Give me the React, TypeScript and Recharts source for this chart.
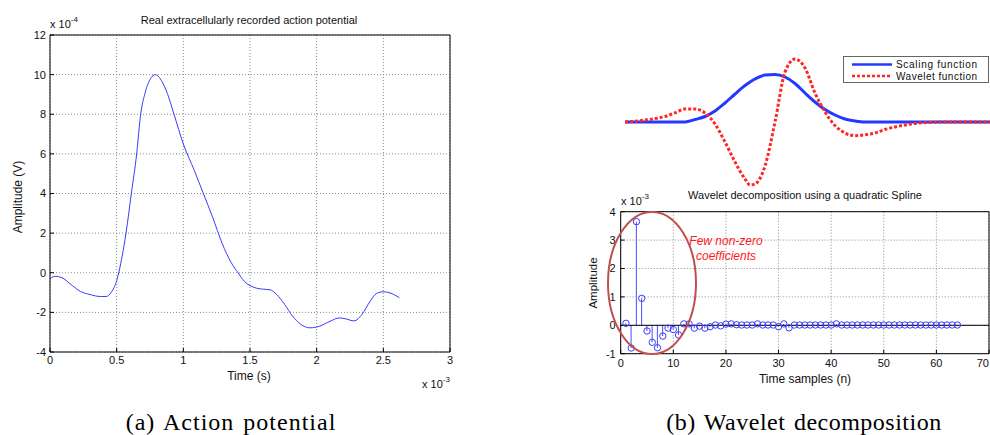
import React from 'react';
import {
  LineChart, Line, XAxis, YAxis, CartesianGrid, ComposedChart, Bar, Scatter, ReferenceLine,
} from 'recharts';

// ---- (a) Action potential: time (x 1e-3 s), amplitude (x 1e-4 V)
const apTime = [0, 0.04, 0.09, 0.15, 0.23, 0.3, 0.38, 0.42, 0.46, 0.5, 0.54, 0.57, 0.61, 0.65, 0.68, 0.71, 0.75, 0.79, 0.84, 0.88, 0.93, 1.0, 1.08, 1.15, 1.22, 1.29, 1.36, 1.41, 1.46, 1.5, 1.55, 1.6, 1.65, 1.7, 1.76, 1.82, 1.88, 1.95, 2.02, 2.1, 2.17, 2.22, 2.28, 2.34, 2.4, 2.45, 2.5, 2.55, 2.62];
const apAmp = [-0.29, -0.18, -0.25, -0.55, -0.95, -1.1, -1.2, -1.2, -0.98, -0.4, 0.8, 2.0, 4.0, 6.0, 8.0, 9.0, 9.75, 10.0, 9.65, 9.05, 8.0, 6.5, 5.2, 4.0, 2.8, 1.5, 0.5, 0.0, -0.45, -0.65, -0.78, -0.83, -0.86, -1.1, -1.6, -2.2, -2.6, -2.78, -2.7, -2.45, -2.28, -2.33, -2.43, -2.1, -1.45, -1.04, -0.96, -1.02, -1.26];
const apXTicks = [0, 0.5, 1, 1.5, 2, 2.5, 3];
const apYTicks = [-4, -2, 0, 2, 4, 6, 8, 10, 12];

// ---- (b) top: scaling & wavelet functions (arbitrary units)
const basisX = [0, 2, 4, 6, 8, 10, 12, 14, 16, 18, 20, 22, 24, 25, 26, 28, 30, 32, 34, 36, 38, 40, 42, 44, 46, 48, 50, 52, 54, 56, 58, 60, 62, 64, 66, 68, 70, 72, 73];
const scalingFn = [0, 0, 0, 0, 0, 0, 0, 2.5, 5.5, 11, 19, 28, 36.5, 40, 43, 47, 47.5, 45, 38.5, 29, 20, 12.5, 7, 3, 1, 0, 0, 0, 0, 0, 0, 0, 0, 0, 0, 0, 0, 0, 0];
const waveletFn = [0, 0.8, 2, 3.4, 5.5, 9.2, 13, 13, 9, -2, -20, -40, -57, -63, -62, -44, 0, 50, 63, 54, 29, 10, -3.5, -11, -13.7, -12.8, -11, -7.5, -5, -3, -1.5, -0.6, -0.2, 0, 0, 0, 0, 0, 0];

// ---- (b) bottom: wavelet coefficients (x 1e-3)
const coefN = [1, 2, 3, 4, 5, 6, 7, 8, 9, 10, 11, 12, 13, 14, 15, 16, 17, 18, 19, 20, 21, 22, 23, 24, 25, 26, 27, 28, 29, 30, 31, 32, 33, 34, 35, 36, 37, 38, 39, 40, 41, 42, 43, 44, 45, 46, 47, 48, 49, 50, 51, 52, 53, 54, 55, 56, 57, 58, 59, 60, 61, 62, 63, 64];
const coefVal = [0.07, -0.8, 3.65, 0.95, -0.2, -0.6, -0.79, -0.38, -0.1, -0.15, -0.34, 0.05, 0.05, -0.1, -0.03, -0.1, -0.05, 0.01, -0.02, 0.04, 0.05, 0.02, 0.01, 0.01, 0.01, 0.05, 0.01, 0.01, 0.01, -0.05, 0.05, -0.09, 0.01, 0.01, 0.01, 0.01, 0.01, 0.01, 0.01, 0.01, 0.05, 0.01, 0.01, 0.01, 0.01, 0.01, 0.01, 0.01, 0.01, 0.01, 0.01, 0.01, 0.01, 0.01, 0.01, 0.01, 0.01, 0.01, 0.01, 0.01, 0.01, 0.01, 0.01, 0.01];
const coefXTicks = [0, 10, 20, 30, 40, 50, 60, 70];
const coefYTicks = [-1, 0, 1, 2, 3, 4];

const apData = apTime.map((t, i) => ({ t, v: apAmp[i] }));
const basisData = basisX.map((x, i) => ({ x, s: scalingFn[i], w: waveletFn[i] }));
const coefData = coefN.map((n, i) => ({ n, v: coefVal[i] }));

const SANS = "'Liberation Sans', Arial, Helvetica, sans-serif";
const SERIF = "'Liberation Serif', 'Times New Roman', serif";
const tickStyle = { fill: '#111', fontSize: 11, fontFamily: SANS };
const gridStroke = '#8a8a8a';
const tl = { stroke: '#000' };

type TxtProps = { x: number; y: number; children: React.ReactNode; size?: number; anchor?: 'start' | 'middle' | 'end'; rotate?: number; style?: React.CSSProperties };
const Txt = ({ x, y, children, size = 11, anchor = 'middle', rotate = 0, style }: TxtProps) => {
  const tx = anchor === 'middle' ? -50 : anchor === 'end' ? -100 : 0;
  return (
    <div style={{
      position: 'absolute', left: x, top: y, transform: `translate(${tx}%, -50%) rotate(${rotate}deg)`,
      whiteSpace: 'nowrap', fontSize: size, fontFamily: SANS, lineHeight: 1, color: '#111', ...style,
    }}>{children}</div>
  );
};

const Sup = ({ children }: { children: React.ReactNode }) => (
  <span style={{ fontSize: 8, position: 'relative', top: -6 }}>{children}</span>
);

const StemCircle = (p: any) => (
  <circle cx={p.cx} cy={p.cy} r={3.2} fill="none" stroke="#3c3cff" strokeWidth={1} />
);

const StemXTick = (p: any) => (
  <text x={p.x} y={p.y} dy="0.71em" textAnchor={p.payload.value === 70 ? 'end' : 'middle'}
    fontSize={11} fill="#111" fontFamily={SANS}>{p.payload.value}</text>
);

export default function App() {
  return (
    <div style={{ position: 'absolute', left: 0, top: 0, width: 990, height: 435, background: '#fff', overflow: 'hidden' }}>
      {/* ---------- (a) ---------- */}
      <div style={{ position: 'absolute', left: 0, top: 0 }}>
        <LineChart width={470} height={400} data={apData} margin={{ top: 34, right: 19, bottom: 28, left: 10 }}>
          <CartesianGrid stroke={gridStroke} strokeDasharray="1 2" />
          <XAxis dataKey="t" type="number" domain={[0, 3]} ticks={apXTicks} interval={0} height={20}
            tickSize={-4} tickLine={tl} tickMargin={8} tick={tickStyle} axisLine={{ stroke: '#000' }} />
          <XAxis xAxisId="top" orientation="top" type="number" domain={[0, 3]} ticks={apXTicks} interval={0} height={1}
            tick={false} tickSize={-4} tickLine={tl} axisLine={{ stroke: '#000' }} />
          <YAxis type="number" domain={[-4, 12]} ticks={apYTicks} interval={0} width={40}
            tickSize={-4} tickLine={tl} tickMargin={8} tick={tickStyle} axisLine={{ stroke: '#000' }} />
          <YAxis yAxisId="right" orientation="right" type="number" domain={[-4, 12]} ticks={apYTicks} interval={0} width={1}
            tick={false} tickSize={-4} tickLine={tl} axisLine={{ stroke: '#000' }} />
          <Line dataKey="v" type="monotone" stroke="#3a3aff" strokeWidth={1} dot={false} isAnimationActive={false} />
        </LineChart>
      </div>
      <Txt x={249} y={20} size={11}>Real extracellularly recorded action potential</Txt>
      <Txt x={50} y={24} anchor="start" size={11}>x 10<Sup>-4</Sup></Txt>
      <Txt x={18} y={197} size={12} rotate={-90}>Amplitude (V)</Txt>
      <Txt x={249} y={376} size={12}>Time (s)</Txt>
      <Txt x={422} y={384} anchor="start" size={11}>x 10<Sup>-3</Sup></Txt>

      {/* ---------- (b) top ---------- */}
      <div style={{ position: 'absolute', left: 625, top: 52 }}>
        <LineChart width={365} height={140} data={basisData} margin={{ top: 0, right: 0, bottom: 0, left: 0 }}>
          <XAxis dataKey="x" type="number" domain={[0, 73]} hide />
          <YAxis type="number" domain={[-70, 70]} hide />
          <Line dataKey="s" type="monotone" stroke="#2438ff" strokeWidth={3} dot={false} isAnimationActive={false} />
          <Line dataKey="w" type="monotone" stroke="#ff2626" strokeWidth={3} strokeDasharray="3 2" dot={false} isAnimationActive={false} />
        </LineChart>
      </div>
      <div style={{ position: 'absolute', left: 843, top: 56, width: 146, height: 27, border: '1px solid #666', background: '#fff', boxSizing: 'border-box' }}>
        <svg width={146} height={27} style={{ position: 'absolute', left: 0, top: 0 }}>
          <line x1={8} x2={48} y1={7.5} y2={7.5} stroke="#2438ff" strokeWidth={2.5} />
          <line x1={8} x2={48} y1={19} y2={19} stroke="#ff2626" strokeWidth={2.5} strokeDasharray="3 2" />
        </svg>
        <Txt x={52} y={8} anchor="start" size={10} style={{ letterSpacing: 0.7 }}>Scaling function</Txt>
        <Txt x={52} y={19.5} anchor="start" size={10} style={{ letterSpacing: 0.5 }}>Wavelet function</Txt>
      </div>

      {/* ---------- (b) bottom ---------- */}
      <div style={{ position: 'absolute', left: 590, top: 180 }}>
        <ComposedChart width={400} height={200} data={coefData} margin={{ top: 30.7, right: 0, bottom: 6.3, left: 0.7 }}>
          <CartesianGrid stroke={gridStroke} strokeDasharray="1 2" />
          <XAxis dataKey="n" type="number" domain={[0, 70]} ticks={coefXTicks} interval={0} height={20}
            tickSize={-4} tickLine={tl} tickMargin={9} tick={StemXTick} axisLine={{ stroke: '#000' }} />
          <XAxis xAxisId="top" orientation="top" type="number" domain={[0, 70]} ticks={coefXTicks} interval={0} height={1}
            tick={false} tickSize={-4} tickLine={tl} axisLine={{ stroke: '#000' }} />
          <YAxis type="number" domain={[-1, 4]} ticks={coefYTicks} interval={0} width={30}
            tickSize={-4} tickLine={tl} tickMargin={9} tick={tickStyle} axisLine={{ stroke: '#000' }} />
          <YAxis yAxisId="right" orientation="right" type="number" domain={[-1, 4]} ticks={coefYTicks} interval={0} width={1}
            tick={false} tickSize={-4} tickLine={tl} axisLine={{ stroke: '#000' }} />
          <Bar dataKey="v" barSize={1} fill="#4a4aff" isAnimationActive={false} />
          <ReferenceLine y={0} stroke="#000" strokeWidth={1} />
          <Scatter dataKey="v" shape={StemCircle} isAnimationActive={false} />
        </ComposedChart>
      </div>
      <Txt x={805} y={195} size={11}>Wavelet decomposition using a quadratic Spline</Txt>
      <Txt x={621} y={201} anchor="start" size={11}>x 10<Sup>-3</Sup></Txt>
      <Txt x={594} y={283} size={11.5} rotate={-90}>Amplitude</Txt>
      <Txt x={805} y={379} size={12}>Time samples (n)</Txt>

      {/* annotation */}
      <svg width={990} height={435} style={{ position: 'absolute', left: 0, top: 0, pointerEvents: 'none' }}>
        <ellipse cx={652} cy={283} rx={44} ry={71} fill="none" stroke="#c0504d" strokeWidth={2} />
      </svg>
      <Txt x={726} y={241} size={12} style={{ color: '#ff1a1a', fontStyle: 'italic' }}>Few non-zero</Txt>
      <Txt x={726} y={256} size={12} style={{ color: '#ff1a1a', fontStyle: 'italic' }}>coefficients</Txt>

      {/* captions */}
      <Txt x={231} y={422} size={24} style={{ fontFamily: SERIF, letterSpacing: 1.0, wordSpacing: 2, color: '#000' }}>(a) Action potential</Txt>
      <Txt x={804} y={422} size={24} style={{ fontFamily: SERIF, letterSpacing: 0.5, wordSpacing: 2, color: '#000' }}>(b) Wavelet decomposition</Txt>
    </div>
  );
}
